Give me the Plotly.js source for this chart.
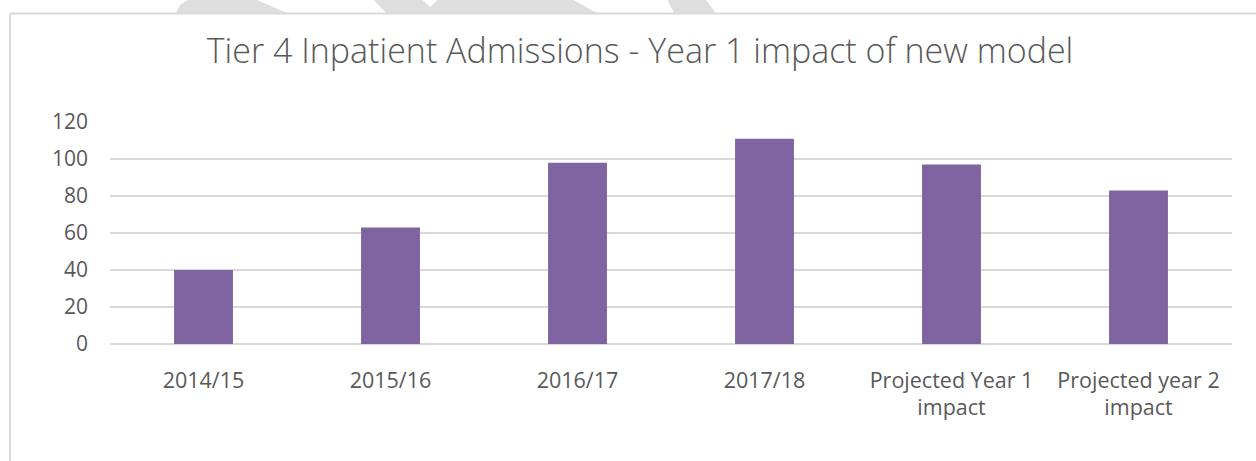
<!DOCTYPE html>
<html>
<head>
<meta charset="utf-8">
<script src="https://cdn.plot.ly/plotly-3.0.1.min.js"></script>
<style>
  html, body { margin: 0; padding: 0; background: #ffffff; }
  #chart { width: 1256px; height: 461px; }
</style>
</head>
<body>
<div id="chart"></div>
<script>
// ---- data ----
const categories = ['2014/15', '2015/16', '2016/17', '2017/18', 'Projected Year 1 impact', 'Projected year 2 impact'];
const tickLabels = ['2014/15', '2015/16', '2016/17', '2017/18', 'Projected Year 1<br>impact', 'Projected year 2<br>impact'];
const admissions = [40, 63, 98, 111, 97, 83];
const yTickValues = [0, 20, 40, 60, 80, 100, 120];
const chartTitle = 'Tier 4 Inpatient Admissions - Year 1 impact of new model';

// ---- layout geometry ----
const W = 1256, H = 461;
const M = { l: 110, r: 24, t: 122, b: 117 };
const pw = W - M.l - M.r, ph = H - M.t - M.b;
const px = x => (x - M.l) / pw;
const py = y => (H - M.b - y) / ph;
function poly(pts) {
  return 'M' + pts.map(p => px(p[0]).toFixed(5) + ',' + py(p[1]).toFixed(5)).join(' L') + ' Z';
}

const grey = '#595959';
const wm = '#dedede';

const shapes = [
  // watermark fragments peeking above the chart frame
  { type: 'path', xref: 'paper', yref: 'paper', layer: 'below', line: { width: 0 }, fillcolor: wm,
    path: poly([[176, 13], [180, 5], [188, 0], [190, -5], [262, -5], [257, 0], [287, 13]]) },
  { type: 'path', xref: 'paper', yref: 'paper', layer: 'below', line: { width: 0 }, fillcolor: wm,
    path: poly([[369, -5], [386, 13], [597, 13], [564, -5], [443, -5], [430, 7], [417, -5]]) },
  { type: 'path', xref: 'paper', yref: 'paper', layer: 'below', line: { width: 0 }, fillcolor: wm,
    path: poly([[665, -5], [674, 13], [716, 13], [702, -5]]) },
  // white chart area
  { type: 'rect', xref: 'paper', yref: 'paper', layer: 'below', line: { width: 0 }, fillcolor: '#ffffff',
    x0: px(10), x1: px(1260), y0: py(14), y1: py(470) },
  // chart frame (left & top)
  { type: 'line', xref: 'paper', yref: 'paper', line: { color: '#d9d9d9', width: 2 },
    x0: px(10), x1: px(1260), y0: py(13.5), y1: py(13.5) },
  { type: 'line', xref: 'paper', yref: 'paper', line: { color: '#d9d9d9', width: 2 },
    x0: px(10), x1: px(10), y0: py(13.5), y1: py(470) }
];

const trace = {
  type: 'bar',
  x: categories,
  y: admissions,
  marker: { color: '#8064a2', line: { width: 0 } },
  hoverinfo: 'x+y'
};

const layout = {
  width: W, height: H,
  margin: M,
  paper_bgcolor: '#ffffff',
  plot_bgcolor: 'rgba(0,0,0,0)',
  showlegend: false,
  bargap: 0.685,
  font: { family: 'Open Sans, sans-serif', color: grey },
  title: {
    text: chartTitle,
    font: { family: 'Open Sans, sans-serif', size: 34, color: grey, weight: 300 },
    xref: 'container', yref: 'container',
    x: 640 / W, y: 1 - 51 / H, xanchor: 'center', yanchor: 'middle'
  },
  xaxis: {
    type: 'category',
    tickvals: categories,
    ticktext: tickLabels,
    tickfont: { size: 21.5, color: grey },
    showgrid: false, showline: false, ticks: '',
    ticklabelstandoff: 21
  },
  yaxis: {
    range: [0, 120],
    tickvals: yTickValues,
    tickfont: { size: 21, color: grey },
    showgrid: true, gridcolor: '#d9d9d9', gridwidth: 1.6,
    zeroline: true, zerolinecolor: '#d9d9d9', zerolinewidth: 1.6,
    showline: false, ticks: '',
    ticklabelstandoff: 21
  },
  shapes: shapes
};

Plotly.newPlot('chart', [trace], layout, { staticPlot: true, displayModeBar: false });
</script>
</body>
</html>
